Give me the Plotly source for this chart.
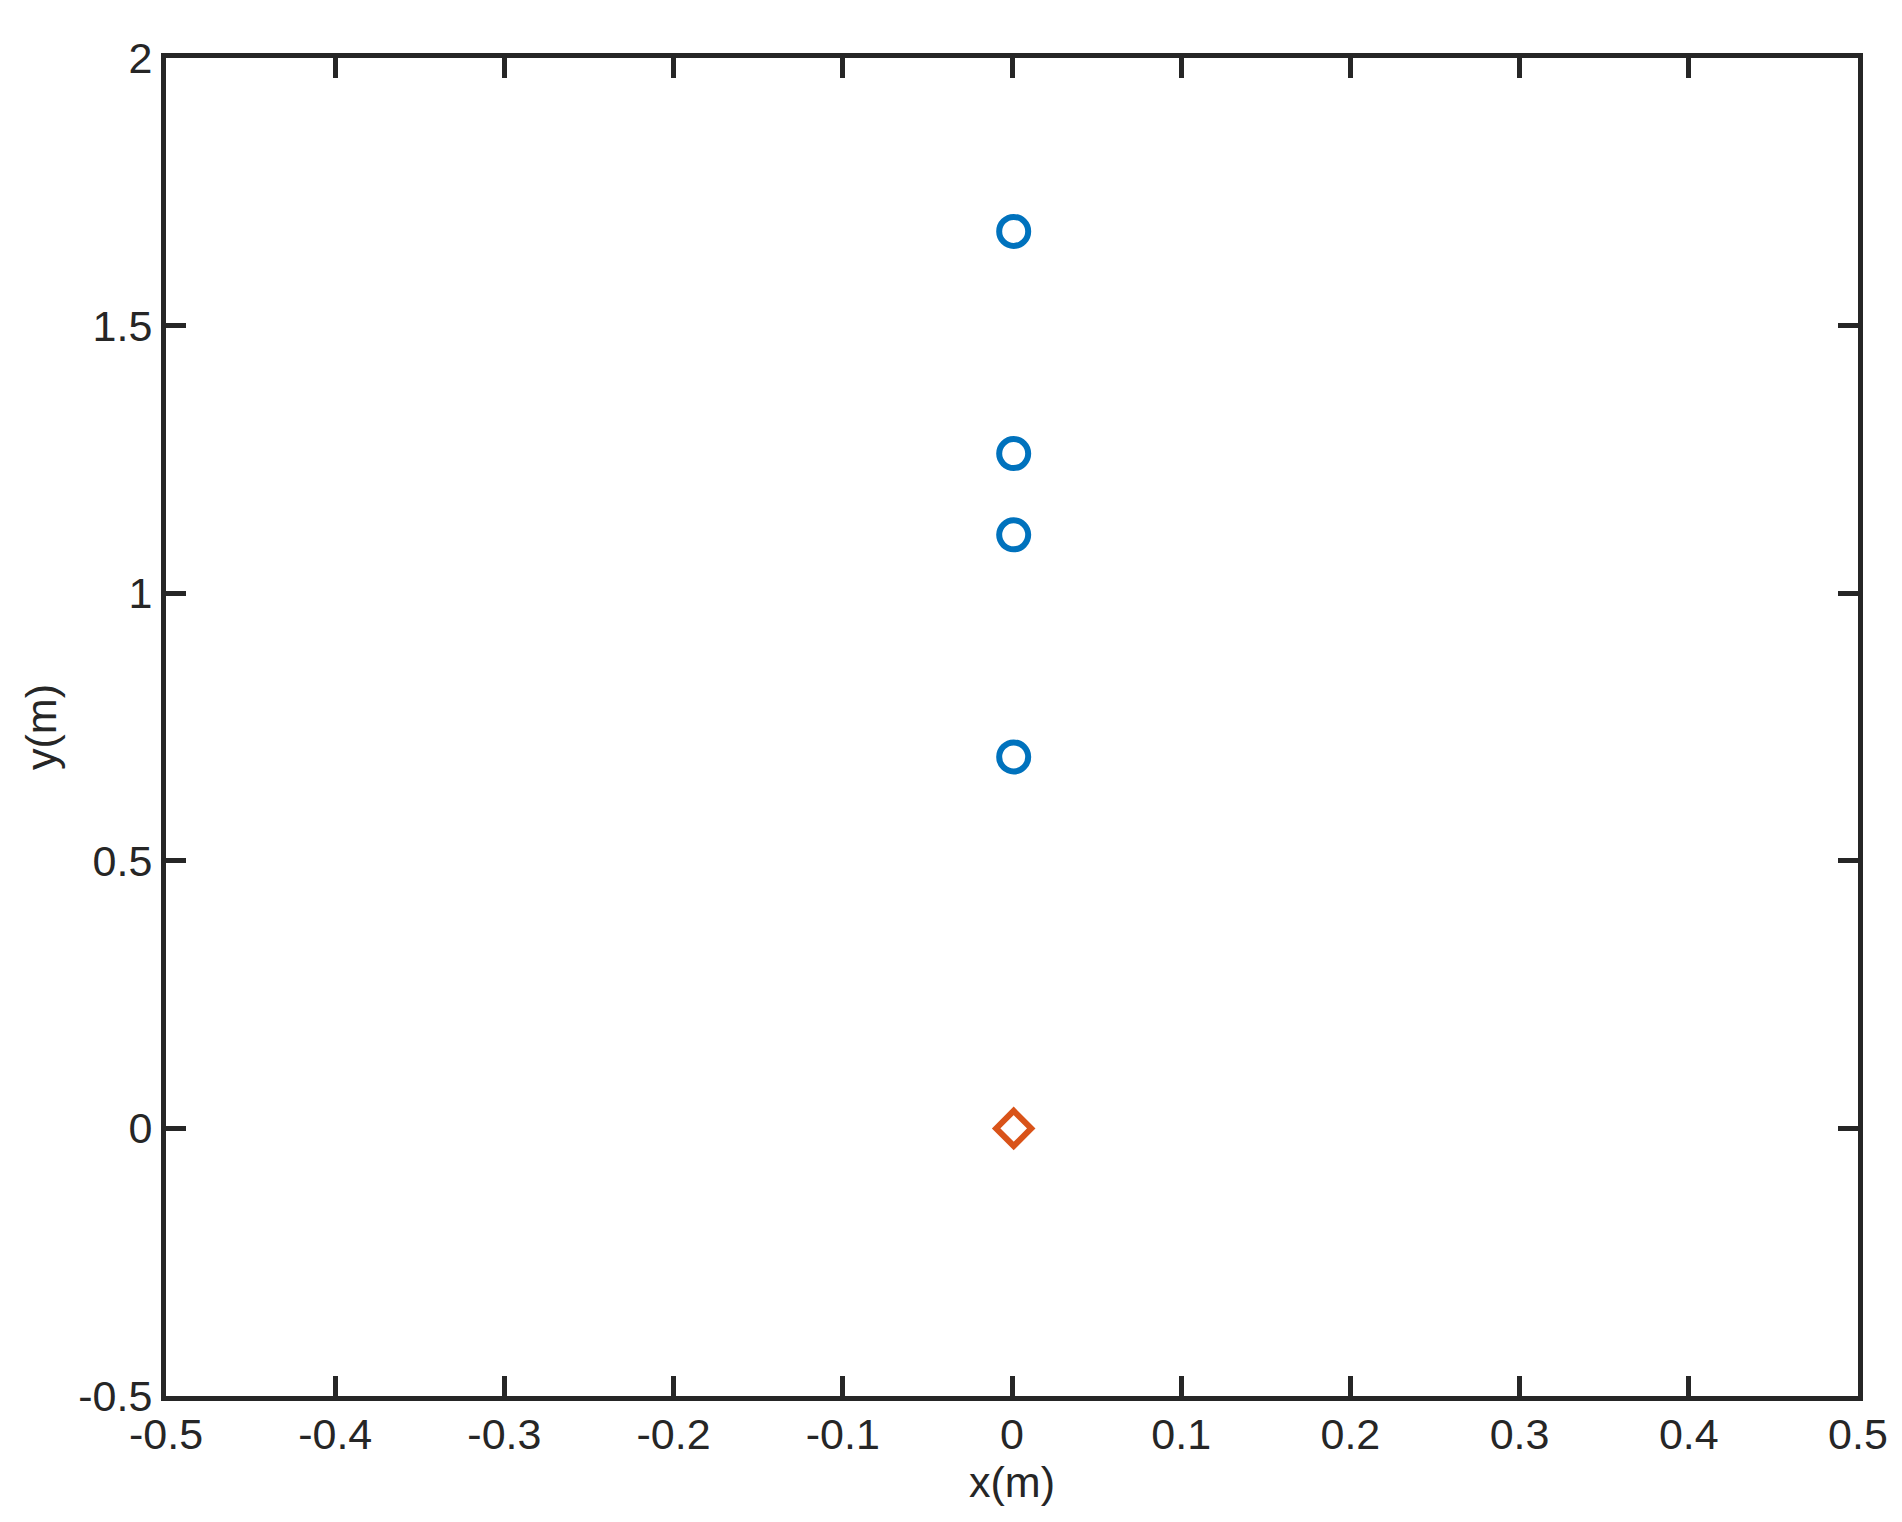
import plotly.graph_objects as go

# Data
receiver_x = [0.001, 0.001, 0.001, 0.001]
receiver_y = [1.676, 1.261, 1.109, 0.694]
source_x = [0.001]
source_y = [0.0]

x_tickvals = [-0.5, -0.4, -0.3, -0.2, -0.1, 0, 0.1, 0.2, 0.3, 0.4, 0.5]
x_ticktext = ["-0.5", "-0.4", "-0.3", "-0.2", "-0.1", "0", "0.1", "0.2", "0.3", "0.4", "0.5"]
y_tickvals = [-0.5, 0, 0.5, 1, 1.5, 2]
y_ticktext = ["-0.5", "0", "0.5", "1", "1.5", "2"]

AX = "#262626"
FONT = "Liberation Sans, Arial, Helvetica, sans-serif"

fig = go.Figure()
fig.add_trace(go.Scatter(
    x=receiver_x, y=receiver_y, mode="markers",
    marker=dict(symbol="circle-open", size=29, color="#0072BD",
                line=dict(width=6, color="#0072BD")),
    showlegend=False))
fig.add_trace(go.Scatter(
    x=source_x, y=source_y, mode="markers",
    marker=dict(symbol="diamond-open", size=27, color="#D95319",
                line=dict(width=6, color="#D95319")),
    showlegend=False))

axis_common = dict(
    showline=True, linewidth=5, linecolor=AX, mirror="ticks",
    ticks="inside", ticklen=20, tickwidth=5, tickcolor=AX,
    showgrid=False, zeroline=False,
    tickfont=dict(family=FONT, size=43, color=AX),
)

fig.update_xaxes(range=[-0.5, 0.5], tickvals=x_tickvals, ticktext=x_ticktext,
                 ticklabelstandoff=-4,
                 title=dict(text="x(m)", font=dict(family=FONT, size=43, color=AX), standoff=2),
                 **axis_common)
fig.update_yaxes(range=[-0.5, 2], tickvals=y_tickvals, ticktext=y_ticktext,
                 title=dict(text="y(m)", font=dict(family=FONT, size=43, color=AX), standoff=10),
                 **axis_common)

fig.update_layout(
    width=1902, height=1522,
    margin=dict(l=158, r=52, t=50, b=134, pad=0),
    paper_bgcolor="white", plot_bgcolor="white",
    font=dict(family=FONT, color=AX),
)

fig.write_html("out.html")
